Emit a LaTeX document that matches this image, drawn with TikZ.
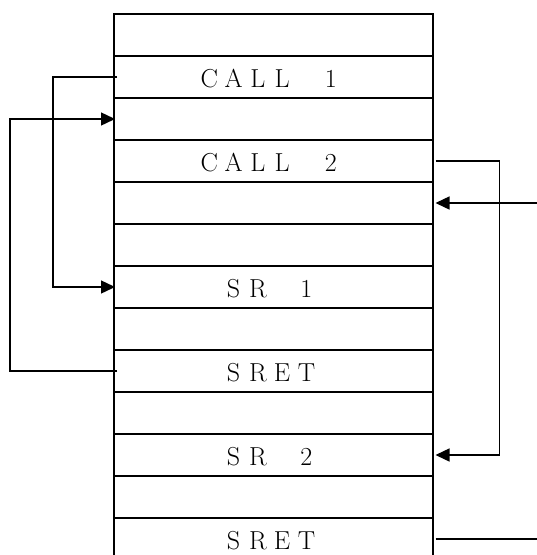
\documentclass[tikz,border=0pt]{standalone}
\usepackage{fontspec}
\usepackage{tikz}
\usetikzlibrary{arrows.meta, positioning}

\newcommand{\fw}[1]{\makebox[24.3pt]{#1}}

\begin{document}
\begin{tikzpicture}[
        x=1pt, y=-1pt,
        cellbox/.style={draw, line width=1.1pt, minimum width=319pt, minimum height=42pt, inner sep=0pt, outer sep=0pt},
        lbl/.style={anchor=base, inner sep=0pt, font=\fontsize{26}{28}\selectfont},
        link/.style={line width=1.4pt},
        arrow/.style={-{Triangle[length=14pt, width=13pt]}, line width=1.4pt}
    ]
    \useasboundingbox (0,0) rectangle (537,555);
    \clip (0,0) rectangle (537,555);

    % Nodes
    \foreach \i in {0,...,12}
        \node[cellbox] (row\i) at (273.5, 35+42*\i) {};

    \node[lbl] (call1) at ([xshift=-3.5pt, yshift=10.5pt]row1.south) {\fw{C}\fw{A}\fw{L}\fw{L}\fw{}\fw{1}};
    \node[lbl] (call2) at ([xshift=-3.5pt, yshift=10.5pt]row3.south) {\fw{C}\fw{A}\fw{L}\fw{L}\fw{}\fw{2}};
    \node[lbl] (sr1) at ([xshift=-3.5pt, yshift=10.5pt]row6.south) {\fw{S}\fw{R}\fw{}\fw{1}};
    \node[lbl] (sret1) at ([xshift=-3.5pt, yshift=10.5pt]row8.south) {\fw{S}\fw{R}\fw{E}\fw{T}};
    \node[lbl] (sr2) at ([xshift=-3.5pt, yshift=10.5pt]row10.south) {\fw{S}\fw{R}\fw{}\fw{2}};
    \node[lbl] (sret2) at ([xshift=-3.5pt, yshift=10.5pt]row12.south) {\fw{S}\fw{R}\fw{E}\fw{T}};

    \coordinate (in2) at (540, 203);
    \coordinate (out2) at (540, 539);

    % Arrows
    \draw[arrow] ([xshift=3pt]row1.west) -- ++(-64,0) |- ([xshift=1pt]row6.west);
    \draw[arrow] ([xshift=3pt]row8.west) -- ++(-107,0) |- ([xshift=1pt]row2.west);
    \draw[arrow] ([xshift=2.5pt]row3.east) -- ++(64,0) |- ([xshift=2.5pt]row10.east);
    \draw[arrow] (in2) -- ([xshift=2.5pt]row4.east);
    \draw[link] ([xshift=2.5pt]row12.east) -- (out2);

\end{tikzpicture}
\end{document}
